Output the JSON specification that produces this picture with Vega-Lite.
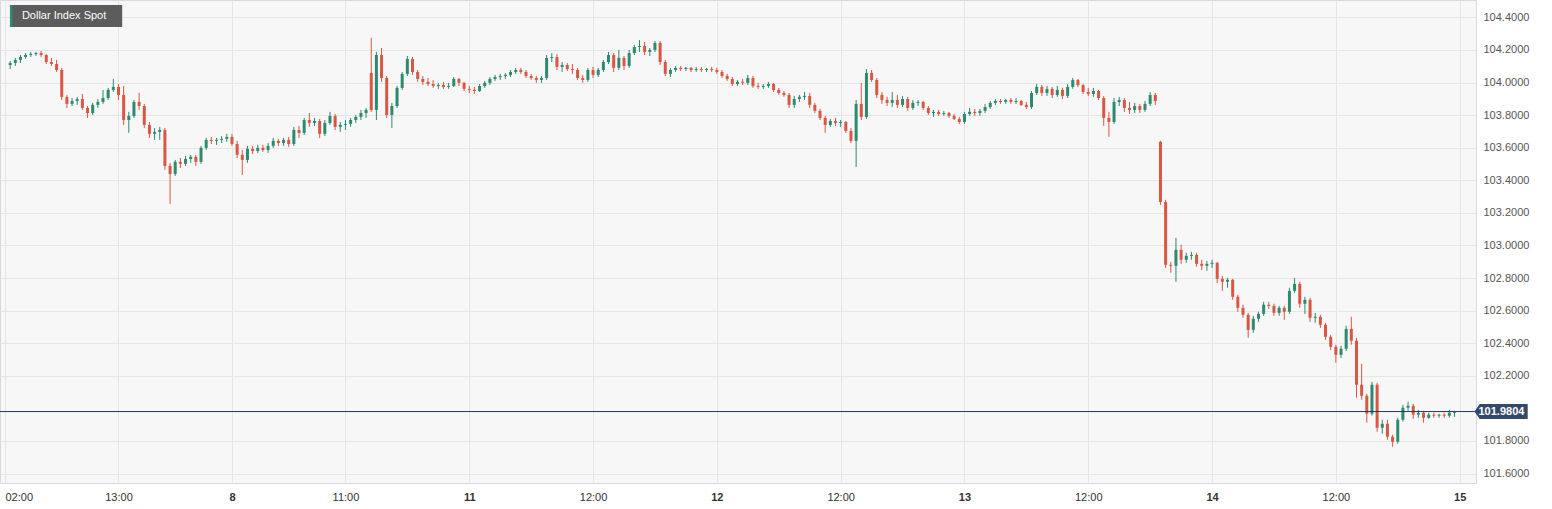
{
"$schema":"https://vega.github.io/schema/vega-lite/v6.json",
"width":1476,"height":483,
"autosize":{"type":"none"},
"padding":{"left":0,"top":0,"right":76,"bottom":26},
"background":"white",
"config":{"view":{"fill":"#f7f7f7","stroke":"#d5d9e6","strokeWidth":1},"axis":{"gridColor":"#e5e5e5","gridWidth":1,"labelFont":"Liberation Sans","ticks":false,"domain":false,"title":null}},
"datasets":{
"candles":[
{"t":-21.5,"o":104.108,"h":104.132,"l":104.083,"c":104.120},
{"t":-21.0,"o":104.120,"h":104.151,"l":104.102,"c":104.139},
{"t":-20.5,"o":104.139,"h":104.169,"l":104.120,"c":104.157},
{"t":-20.0,"o":104.157,"h":104.181,"l":104.145,"c":104.169},
{"t":-19.5,"o":104.169,"h":104.188,"l":104.157,"c":104.175},
{"t":-19.0,"o":104.175,"h":104.188,"l":104.163,"c":104.181},
{"t":-18.5,"o":104.181,"h":104.194,"l":104.157,"c":104.169},
{"t":-18.0,"o":104.169,"h":104.175,"l":104.114,"c":104.126},
{"t":-17.5,"o":104.126,"h":104.151,"l":104.102,"c":104.114},
{"t":-17.0,"o":104.114,"h":104.139,"l":104.065,"c":104.077},
{"t":-16.5,"o":104.077,"h":104.090,"l":103.893,"c":103.912},
{"t":-16.0,"o":103.912,"h":103.924,"l":103.844,"c":103.869},
{"t":-15.5,"o":103.869,"h":103.905,"l":103.856,"c":103.887},
{"t":-15.0,"o":103.887,"h":103.912,"l":103.863,"c":103.899},
{"t":-14.5,"o":103.899,"h":103.930,"l":103.832,"c":103.844},
{"t":-14.0,"o":103.844,"h":103.856,"l":103.783,"c":103.813},
{"t":-13.5,"o":103.813,"h":103.875,"l":103.801,"c":103.863},
{"t":-13.0,"o":103.863,"h":103.899,"l":103.844,"c":103.881},
{"t":-12.5,"o":103.881,"h":103.955,"l":103.869,"c":103.905},
{"t":-12.0,"o":103.905,"h":103.967,"l":103.893,"c":103.955},
{"t":-11.5,"o":103.955,"h":104.022,"l":103.942,"c":103.973},
{"t":-11.0,"o":103.973,"h":103.991,"l":103.893,"c":103.924},
{"t":-10.5,"o":103.924,"h":103.979,"l":103.740,"c":103.770},
{"t":-10.0,"o":103.770,"h":103.820,"l":103.691,"c":103.795},
{"t":-9.5,"o":103.795,"h":103.893,"l":103.783,"c":103.881},
{"t":-9.0,"o":103.881,"h":103.936,"l":103.832,"c":103.856},
{"t":-8.5,"o":103.856,"h":103.869,"l":103.721,"c":103.740},
{"t":-8.0,"o":103.740,"h":103.758,"l":103.660,"c":103.685},
{"t":-7.5,"o":103.685,"h":103.721,"l":103.648,"c":103.697},
{"t":-7.0,"o":103.697,"h":103.728,"l":103.648,"c":103.709},
{"t":-6.5,"o":103.709,"h":103.721,"l":103.464,"c":103.488},
{"t":-6.0,"o":103.488,"h":103.507,"l":103.255,"c":103.439},
{"t":-5.5,"o":103.439,"h":103.525,"l":103.427,"c":103.513},
{"t":-5.0,"o":103.513,"h":103.537,"l":103.476,"c":103.501},
{"t":-4.5,"o":103.501,"h":103.550,"l":103.488,"c":103.531},
{"t":-4.0,"o":103.531,"h":103.556,"l":103.507,"c":103.544},
{"t":-3.5,"o":103.544,"h":103.556,"l":103.488,"c":103.513},
{"t":-3.0,"o":103.513,"h":103.611,"l":103.501,"c":103.599},
{"t":-2.5,"o":103.599,"h":103.660,"l":103.586,"c":103.648},
{"t":-2.0,"o":103.648,"h":103.666,"l":103.623,"c":103.642},
{"t":-1.5,"o":103.642,"h":103.660,"l":103.617,"c":103.648},
{"t":-1.0,"o":103.648,"h":103.672,"l":103.629,"c":103.654},
{"t":-0.5,"o":103.654,"h":103.685,"l":103.636,"c":103.666},
{"t":0,"o":103.666,"h":103.685,"l":103.611,"c":103.623},
{"t":0.5,"o":103.623,"h":103.642,"l":103.537,"c":103.556},
{"t":1,"o":103.556,"h":103.586,"l":103.433,"c":103.525},
{"t":1.5,"o":103.525,"h":103.611,"l":103.507,"c":103.593},
{"t":2,"o":103.593,"h":103.611,"l":103.562,"c":103.580},
{"t":2.5,"o":103.580,"h":103.617,"l":103.568,"c":103.599},
{"t":3,"o":103.599,"h":103.617,"l":103.574,"c":103.586},
{"t":3.5,"o":103.586,"h":103.629,"l":103.568,"c":103.611},
{"t":4,"o":103.611,"h":103.660,"l":103.599,"c":103.642},
{"t":4.5,"o":103.642,"h":103.654,"l":103.611,"c":103.629},
{"t":5,"o":103.629,"h":103.660,"l":103.611,"c":103.648},
{"t":5.5,"o":103.648,"h":103.666,"l":103.605,"c":103.623},
{"t":6,"o":103.623,"h":103.728,"l":103.611,"c":103.709},
{"t":6.5,"o":103.709,"h":103.734,"l":103.660,"c":103.691},
{"t":7,"o":103.691,"h":103.783,"l":103.678,"c":103.770},
{"t":7.5,"o":103.770,"h":103.813,"l":103.728,"c":103.752},
{"t":8,"o":103.752,"h":103.783,"l":103.734,"c":103.764},
{"t":8.5,"o":103.764,"h":103.777,"l":103.660,"c":103.685},
{"t":9,"o":103.685,"h":103.770,"l":103.672,"c":103.752},
{"t":9.5,"o":103.752,"h":103.820,"l":103.740,"c":103.795},
{"t":10,"o":103.795,"h":103.807,"l":103.709,"c":103.728},
{"t":10.5,"o":103.728,"h":103.758,"l":103.697,"c":103.740},
{"t":11,"o":103.740,"h":103.770,"l":103.709,"c":103.746},
{"t":11.5,"o":103.746,"h":103.783,"l":103.728,"c":103.770},
{"t":12,"o":103.770,"h":103.801,"l":103.752,"c":103.789},
{"t":12.5,"o":103.789,"h":103.832,"l":103.770,"c":103.813},
{"t":13,"o":103.813,"h":103.844,"l":103.783,"c":103.832},
{"t":13.5,"o":104.059,"h":104.274,"l":103.820,"c":103.832},
{"t":14,"o":103.832,"h":104.188,"l":103.770,"c":104.169},
{"t":14.5,"o":104.169,"h":104.212,"l":104.004,"c":104.028},
{"t":15,"o":104.028,"h":104.040,"l":103.783,"c":103.801},
{"t":15.5,"o":103.801,"h":103.875,"l":103.721,"c":103.856},
{"t":16,"o":103.856,"h":103.979,"l":103.844,"c":103.967},
{"t":16.5,"o":103.967,"h":104.065,"l":103.955,"c":104.053},
{"t":17,"o":104.053,"h":104.163,"l":104.040,"c":104.145},
{"t":17.5,"o":104.145,"h":104.157,"l":104.047,"c":104.065},
{"t":18,"o":104.065,"h":104.077,"l":104.004,"c":104.022},
{"t":18.5,"o":104.022,"h":104.040,"l":103.985,"c":104.004},
{"t":19,"o":104.004,"h":104.028,"l":103.979,"c":103.991},
{"t":19.5,"o":103.991,"h":104.016,"l":103.967,"c":103.979},
{"t":20,"o":103.979,"h":103.998,"l":103.961,"c":103.985},
{"t":20.5,"o":103.985,"h":104.004,"l":103.961,"c":103.973},
{"t":21,"o":103.973,"h":103.998,"l":103.961,"c":103.979},
{"t":21.5,"o":103.979,"h":104.034,"l":103.973,"c":104.022},
{"t":22,"o":104.022,"h":104.028,"l":103.979,"c":103.998},
{"t":22.5,"o":103.998,"h":104.004,"l":103.948,"c":103.961},
{"t":23,"o":103.961,"h":103.979,"l":103.936,"c":103.955},
{"t":23.5,"o":103.955,"h":103.973,"l":103.930,"c":103.948},
{"t":24,"o":103.948,"h":103.991,"l":103.942,"c":103.979},
{"t":24.5,"o":103.979,"h":104.010,"l":103.967,"c":103.998},
{"t":25,"o":103.998,"h":104.034,"l":103.985,"c":104.022},
{"t":25.5,"o":104.022,"h":104.047,"l":104.010,"c":104.034},
{"t":26,"o":104.034,"h":104.053,"l":104.016,"c":104.040},
{"t":26.5,"o":104.040,"h":104.059,"l":104.022,"c":104.047},
{"t":27,"o":104.047,"h":104.077,"l":104.034,"c":104.065},
{"t":27.5,"o":104.065,"h":104.090,"l":104.053,"c":104.077},
{"t":28,"o":104.077,"h":104.090,"l":104.053,"c":104.065},
{"t":28.5,"o":104.065,"h":104.077,"l":104.028,"c":104.040},
{"t":29,"o":104.040,"h":104.053,"l":104.016,"c":104.028},
{"t":29.5,"o":104.028,"h":104.040,"l":103.998,"c":104.016},
{"t":30,"o":104.016,"h":104.040,"l":103.998,"c":104.028},
{"t":30.5,"o":104.028,"h":104.169,"l":104.016,"c":104.151},
{"t":31,"o":104.151,"h":104.181,"l":104.126,"c":104.157},
{"t":31.5,"o":104.157,"h":104.175,"l":104.077,"c":104.096},
{"t":32,"o":104.096,"h":104.126,"l":104.065,"c":104.108},
{"t":32.5,"o":104.108,"h":104.120,"l":104.071,"c":104.083},
{"t":33,"o":104.083,"h":104.114,"l":104.053,"c":104.077},
{"t":33.5,"o":104.077,"h":104.090,"l":104.016,"c":104.028},
{"t":34,"o":104.028,"h":104.047,"l":103.998,"c":104.016},
{"t":34.5,"o":104.016,"h":104.090,"l":104.004,"c":104.077},
{"t":35,"o":104.077,"h":104.096,"l":104.028,"c":104.047},
{"t":35.5,"o":104.047,"h":104.090,"l":104.034,"c":104.077},
{"t":36,"o":104.077,"h":104.139,"l":104.065,"c":104.126},
{"t":36.5,"o":104.126,"h":104.188,"l":104.114,"c":104.169},
{"t":37,"o":104.169,"h":104.181,"l":104.065,"c":104.090},
{"t":37.5,"o":104.090,"h":104.200,"l":104.077,"c":104.151},
{"t":38,"o":104.151,"h":104.163,"l":104.077,"c":104.102},
{"t":38.5,"o":104.102,"h":104.200,"l":104.090,"c":104.181},
{"t":39,"o":104.181,"h":104.231,"l":104.169,"c":104.218},
{"t":39.5,"o":104.218,"h":104.261,"l":104.188,"c":104.224},
{"t":40,"o":104.224,"h":104.249,"l":104.169,"c":104.188},
{"t":40.5,"o":104.188,"h":104.212,"l":104.163,"c":104.200},
{"t":41,"o":104.200,"h":104.255,"l":104.188,"c":104.243},
{"t":41.5,"o":104.243,"h":104.255,"l":104.108,"c":104.126},
{"t":42,"o":104.126,"h":104.139,"l":104.040,"c":104.053},
{"t":42.5,"o":104.053,"h":104.090,"l":104.034,"c":104.077},
{"t":43,"o":104.077,"h":104.102,"l":104.065,"c":104.090},
{"t":43.5,"o":104.090,"h":104.102,"l":104.071,"c":104.083},
{"t":44,"o":104.083,"h":104.096,"l":104.071,"c":104.090},
{"t":44.5,"o":104.090,"h":104.096,"l":104.065,"c":104.077},
{"t":45,"o":104.077,"h":104.096,"l":104.065,"c":104.083},
{"t":45.5,"o":104.083,"h":104.096,"l":104.065,"c":104.077},
{"t":46,"o":104.077,"h":104.090,"l":104.065,"c":104.083},
{"t":46.5,"o":104.083,"h":104.096,"l":104.065,"c":104.077},
{"t":47,"o":104.077,"h":104.090,"l":104.053,"c":104.065},
{"t":47.5,"o":104.065,"h":104.077,"l":104.028,"c":104.040},
{"t":48,"o":104.040,"h":104.053,"l":104.010,"c":104.022},
{"t":48.5,"o":104.022,"h":104.034,"l":103.979,"c":103.991},
{"t":49,"o":103.991,"h":104.016,"l":103.979,"c":104.004},
{"t":49.5,"o":104.004,"h":104.022,"l":103.985,"c":103.998},
{"t":50,"o":103.998,"h":104.047,"l":103.985,"c":104.028},
{"t":50.5,"o":104.028,"h":104.040,"l":103.967,"c":103.979},
{"t":51,"o":103.979,"h":103.998,"l":103.961,"c":103.973},
{"t":51.5,"o":103.973,"h":103.991,"l":103.961,"c":103.979},
{"t":52,"o":103.979,"h":104.004,"l":103.967,"c":103.991},
{"t":52.5,"o":103.991,"h":103.998,"l":103.942,"c":103.955},
{"t":53,"o":103.955,"h":103.967,"l":103.924,"c":103.936},
{"t":53.5,"o":103.936,"h":103.948,"l":103.912,"c":103.924},
{"t":54,"o":103.924,"h":103.936,"l":103.844,"c":103.863},
{"t":54.5,"o":103.863,"h":103.918,"l":103.844,"c":103.899},
{"t":55,"o":103.899,"h":103.924,"l":103.881,"c":103.912},
{"t":55.5,"o":103.912,"h":103.942,"l":103.893,"c":103.918},
{"t":56,"o":103.918,"h":103.936,"l":103.844,"c":103.863},
{"t":56.5,"o":103.863,"h":103.875,"l":103.813,"c":103.826},
{"t":57,"o":103.826,"h":103.838,"l":103.770,"c":103.783},
{"t":57.5,"o":103.783,"h":103.795,"l":103.691,"c":103.740},
{"t":58,"o":103.740,"h":103.777,"l":103.728,"c":103.764},
{"t":58.5,"o":103.764,"h":103.783,"l":103.734,"c":103.752},
{"t":59,"o":103.752,"h":103.770,"l":103.728,"c":103.758},
{"t":59.5,"o":103.758,"h":103.764,"l":103.691,"c":103.703},
{"t":60,"o":103.703,"h":103.721,"l":103.629,"c":103.642},
{"t":60.5,"o":103.642,"h":103.893,"l":103.482,"c":103.869},
{"t":61,"o":103.869,"h":103.998,"l":103.770,"c":103.789},
{"t":61.5,"o":103.789,"h":104.083,"l":103.777,"c":104.059},
{"t":62,"o":104.059,"h":104.077,"l":104.004,"c":104.016},
{"t":62.5,"o":104.016,"h":104.028,"l":103.905,"c":103.924},
{"t":63,"o":103.924,"h":103.942,"l":103.869,"c":103.893},
{"t":63.5,"o":103.893,"h":103.912,"l":103.856,"c":103.875},
{"t":64,"o":103.875,"h":103.942,"l":103.850,"c":103.893},
{"t":64.5,"o":103.893,"h":103.924,"l":103.844,"c":103.863},
{"t":65,"o":103.863,"h":103.918,"l":103.850,"c":103.899},
{"t":65.5,"o":103.899,"h":103.912,"l":103.826,"c":103.844},
{"t":66,"o":103.844,"h":103.893,"l":103.832,"c":103.875},
{"t":66.5,"o":103.875,"h":103.893,"l":103.856,"c":103.881},
{"t":67,"o":103.881,"h":103.887,"l":103.832,"c":103.844},
{"t":67.5,"o":103.844,"h":103.856,"l":103.801,"c":103.813},
{"t":68,"o":103.813,"h":103.832,"l":103.789,"c":103.820},
{"t":68.5,"o":103.820,"h":103.832,"l":103.795,"c":103.807},
{"t":69,"o":103.807,"h":103.826,"l":103.795,"c":103.813},
{"t":69.5,"o":103.813,"h":103.820,"l":103.783,"c":103.795},
{"t":70,"o":103.795,"h":103.807,"l":103.770,"c":103.777},
{"t":70.5,"o":103.777,"h":103.789,"l":103.746,"c":103.758},
{"t":71,"o":103.758,"h":103.820,"l":103.746,"c":103.807},
{"t":71.5,"o":103.807,"h":103.844,"l":103.795,"c":103.820},
{"t":72,"o":103.820,"h":103.838,"l":103.795,"c":103.813},
{"t":72.5,"o":103.813,"h":103.838,"l":103.795,"c":103.826},
{"t":73,"o":103.826,"h":103.869,"l":103.813,"c":103.850},
{"t":73.5,"o":103.850,"h":103.887,"l":103.838,"c":103.875},
{"t":74,"o":103.875,"h":103.899,"l":103.863,"c":103.887},
{"t":74.5,"o":103.887,"h":103.899,"l":103.869,"c":103.881},
{"t":75,"o":103.881,"h":103.899,"l":103.869,"c":103.893},
{"t":75.5,"o":103.893,"h":103.905,"l":103.869,"c":103.881},
{"t":76,"o":103.881,"h":103.905,"l":103.869,"c":103.887},
{"t":76.5,"o":103.887,"h":103.893,"l":103.856,"c":103.863},
{"t":77,"o":103.863,"h":103.881,"l":103.838,"c":103.850},
{"t":77.5,"o":103.850,"h":103.948,"l":103.838,"c":103.936},
{"t":78,"o":103.936,"h":103.991,"l":103.924,"c":103.973},
{"t":78.5,"o":103.973,"h":103.985,"l":103.918,"c":103.936},
{"t":79,"o":103.936,"h":103.979,"l":103.918,"c":103.961},
{"t":79.5,"o":103.961,"h":103.973,"l":103.905,"c":103.924},
{"t":80,"o":103.924,"h":103.979,"l":103.912,"c":103.955},
{"t":80.5,"o":103.955,"h":103.967,"l":103.899,"c":103.918},
{"t":81,"o":103.918,"h":103.991,"l":103.905,"c":103.973},
{"t":81.5,"o":103.973,"h":104.028,"l":103.961,"c":104.016},
{"t":82,"o":104.016,"h":104.022,"l":103.973,"c":103.985},
{"t":82.5,"o":103.985,"h":103.991,"l":103.930,"c":103.942},
{"t":83,"o":103.942,"h":103.967,"l":103.918,"c":103.930},
{"t":83.5,"o":103.930,"h":103.967,"l":103.912,"c":103.948},
{"t":84,"o":103.948,"h":103.955,"l":103.893,"c":103.905},
{"t":84.5,"o":103.905,"h":103.918,"l":103.734,"c":103.783},
{"t":85,"o":103.783,"h":103.820,"l":103.666,"c":103.758},
{"t":85.5,"o":103.758,"h":103.905,"l":103.746,"c":103.881},
{"t":86,"o":103.881,"h":103.912,"l":103.856,"c":103.893},
{"t":86.5,"o":103.893,"h":103.905,"l":103.820,"c":103.844},
{"t":87,"o":103.844,"h":103.881,"l":103.807,"c":103.832},
{"t":87.5,"o":103.832,"h":103.875,"l":103.813,"c":103.856},
{"t":88,"o":103.856,"h":103.869,"l":103.813,"c":103.832},
{"t":88.5,"o":103.832,"h":103.887,"l":103.820,"c":103.869},
{"t":89,"o":103.869,"h":103.942,"l":103.856,"c":103.924},
{"t":89.5,"o":103.924,"h":103.936,"l":103.863,"c":103.887},
{"t":90,"o":103.636,"h":103.642,"l":103.249,"c":103.267},
{"t":90.5,"o":103.267,"h":103.280,"l":102.862,"c":102.881},
{"t":91,"o":102.881,"h":102.899,"l":102.832,"c":102.875},
{"t":91.5,"o":102.875,"h":103.047,"l":102.777,"c":102.973},
{"t":92,"o":102.973,"h":103.004,"l":102.887,"c":102.912},
{"t":92.5,"o":102.912,"h":102.955,"l":102.893,"c":102.936},
{"t":93,"o":102.936,"h":102.961,"l":102.912,"c":102.942},
{"t":93.5,"o":102.942,"h":102.955,"l":102.869,"c":102.887},
{"t":94,"o":102.887,"h":102.912,"l":102.850,"c":102.875},
{"t":94.5,"o":102.875,"h":102.905,"l":102.844,"c":102.887},
{"t":95,"o":102.887,"h":102.912,"l":102.862,"c":102.893},
{"t":95.5,"o":102.893,"h":102.899,"l":102.770,"c":102.795},
{"t":96,"o":102.795,"h":102.813,"l":102.721,"c":102.777},
{"t":96.5,"o":102.777,"h":102.801,"l":102.740,"c":102.789},
{"t":97,"o":102.789,"h":102.795,"l":102.666,"c":102.685},
{"t":97.5,"o":102.685,"h":102.697,"l":102.593,"c":102.617},
{"t":98,"o":102.617,"h":102.636,"l":102.556,"c":102.574},
{"t":98.5,"o":102.574,"h":102.586,"l":102.433,"c":102.482},
{"t":99,"o":102.482,"h":102.568,"l":102.464,"c":102.550},
{"t":99.5,"o":102.550,"h":102.593,"l":102.531,"c":102.580},
{"t":100,"o":102.580,"h":102.654,"l":102.568,"c":102.636},
{"t":100.5,"o":102.636,"h":102.654,"l":102.611,"c":102.629},
{"t":101,"o":102.629,"h":102.642,"l":102.568,"c":102.586},
{"t":101.5,"o":102.586,"h":102.629,"l":102.568,"c":102.617},
{"t":102,"o":102.617,"h":102.629,"l":102.543,"c":102.593},
{"t":102.5,"o":102.593,"h":102.740,"l":102.580,"c":102.721},
{"t":103,"o":102.721,"h":102.801,"l":102.709,"c":102.764},
{"t":103.5,"o":102.764,"h":102.777,"l":102.617,"c":102.642},
{"t":104,"o":102.642,"h":102.685,"l":102.580,"c":102.666},
{"t":104.5,"o":102.666,"h":102.679,"l":102.531,"c":102.556},
{"t":105,"o":102.556,"h":102.586,"l":102.525,"c":102.562},
{"t":105.5,"o":102.562,"h":102.574,"l":102.494,"c":102.513},
{"t":106,"o":102.513,"h":102.525,"l":102.421,"c":102.439},
{"t":106.5,"o":102.439,"h":102.451,"l":102.359,"c":102.378},
{"t":107,"o":102.378,"h":102.390,"l":102.280,"c":102.329},
{"t":107.5,"o":102.329,"h":102.384,"l":102.310,"c":102.366},
{"t":108,"o":102.366,"h":102.507,"l":102.353,"c":102.488},
{"t":108.5,"o":102.488,"h":102.562,"l":102.390,"c":102.415},
{"t":109,"o":102.415,"h":102.433,"l":102.065,"c":102.145},
{"t":109.5,"o":102.145,"h":102.274,"l":102.053,"c":102.077},
{"t":110,"o":102.077,"h":102.089,"l":101.912,"c":101.967},
{"t":110.5,"o":101.967,"h":102.163,"l":101.955,"c":102.145},
{"t":111,"o":102.145,"h":102.157,"l":101.856,"c":101.881},
{"t":111.5,"o":101.881,"h":101.930,"l":101.844,"c":101.905},
{"t":112,"o":101.905,"h":101.930,"l":101.807,"c":101.826},
{"t":112.5,"o":101.826,"h":101.838,"l":101.764,"c":101.795},
{"t":113,"o":101.795,"h":101.942,"l":101.783,"c":101.930},
{"t":113.5,"o":101.930,"h":102.022,"l":101.918,"c":102.004},
{"t":114,"o":102.004,"h":102.040,"l":101.985,"c":102.016},
{"t":114.5,"o":102.016,"h":102.028,"l":101.936,"c":101.961},
{"t":115,"o":101.961,"h":101.991,"l":101.942,"c":101.973},
{"t":115.5,"o":101.973,"h":101.985,"l":101.912,"c":101.942},
{"t":116,"o":101.942,"h":101.973,"l":101.936,"c":101.961},
{"t":116.5,"o":101.961,"h":101.973,"l":101.942,"c":101.955},
{"t":117,"o":101.955,"h":101.967,"l":101.942,"c":101.961},
{"t":117.5,"o":101.961,"h":101.973,"l":101.942,"c":101.955},
{"t":118,"o":101.955,"h":101.991,"l":101.942,"c":101.973},
{"t":118.5,"o":101.973,"h":101.985,"l":101.948,"c":101.979}
],
"last":[{"price":101.9804,"label":"101.9804"}],
"name":[{"name":"Dollar Index Spot"}]
},
"layer":[
{"data":{"name":"candles"},
 "mark":{"type":"rule","strokeWidth":1},
 "encoding":{
  "x":{"field":"t","type":"quantitative","scale":{"domain":[-22,120.1],"nice":false,"zero":false},
   "axis":{"title":null,"values":[-22,-11,0,11,23,35,47,59,71,83,95,107,119],"tickCount":40,"grid":true,"labelPadding":8,"labelFontSize":11,"labelColor":"#333333","labelOverlap":false,
    "labelExpr":"['02:00','13:00','8','11:00','11','12:00','12','12:00','13','12:00','14','12:00','15'][indexof([-22,-11,0,11,23,35,47,59,71,83,95,107,119], datum.value)]",
    "labelFontWeight":{"condition":{"test":"indexof([0,23,47,71,95,119], datum.value) >= 0","value":"bold"},"value":"normal"},
    "labelAlign":{"condition":{"test":"datum.value == -22","value":"left"},"value":"center"}}},
  "y":{"field":"l","type":"quantitative","scale":{"domain":[101.5417,104.5067],"nice":false,"zero":false},
   "axis":{"title":null,"orient":"right","values":[101.6,101.8,102.2,102.4,102.6,102.8,103.0,103.2,103.4,103.6,103.8,104.0,104.2,104.4],"tickCount":30,"labelOverlap":false,"format":".4f","grid":true,"labelPadding":7,"labelFontSize":11,"labelColor":"#555555"}},
  "y2":{"field":"h"},
  "color":{"condition":{"test":"datum.c >= datum.o","value":"#2c8a70"},"value":"#d95742"}
 }},
{"data":{"name":"candles"},
 "mark":{"type":"bar","width":3},
 "encoding":{
  "x":{"field":"t","type":"quantitative"},
  "y":{"field":"o","type":"quantitative"},
  "y2":{"field":"c"},
  "color":{"condition":{"test":"datum.c >= datum.o","value":"#2c8a70"},"value":"#d95742"}
 }},
{"data":{"name":"last"},
 "mark":{"type":"rule","color":"#27385a","strokeWidth":1},
 "encoding":{"y":{"field":"price","type":"quantitative"}}},
{"data":{"name":"last"},
 "mark":{"type":"point","shape":"M -3.6 0 L -2.9 -1 L 3.5 -1 L 3.5 1 L -2.9 1 Z","size":225,"filled":true,"opacity":1,"color":"#34496a","strokeWidth":0},
 "encoding":{
  "x":{"datum":123.05,"type":"quantitative"},
  "y":{"field":"price","type":"quantitative"}}},
{"data":{"name":"last"},
 "mark":{"type":"text","color":"white","fontSize":11,"fontWeight":"bold","font":"Liberation Sans","align":"center","baseline":"middle"},
 "encoding":{
  "x":{"datum":123.05,"type":"quantitative"},
  "y":{"field":"price","type":"quantitative"},
  "text":{"field":"label"}}},
{"data":{"name":"name"},
 "mark":{"type":"rect","color":"#5c5c5c"},
 "encoding":{
  "x":{"datum":-21.519,"type":"quantitative"},
  "x2":{"datum":-10.64},
  "y":{"datum":104.476,"type":"quantitative"},
  "y2":{"datum":104.341}}},
{"data":{"name":"name"},
 "mark":{"type":"rect","color":"#2e8b74"},
 "encoding":{
  "x":{"datum":-21.519,"type":"quantitative"},
  "x2":{"datum":-21.28},
  "y":{"datum":104.476,"type":"quantitative"},
  "y2":{"datum":104.341}}},
{"data":{"name":"name"},
 "mark":{"type":"text","color":"white","fontSize":11,"font":"Liberation Sans","align":"left","baseline":"middle"},
 "encoding":{
  "x":{"datum":-20.363,"type":"quantitative"},
  "y":{"datum":104.409,"type":"quantitative"},
  "text":{"field":"name"}}}
]
}
